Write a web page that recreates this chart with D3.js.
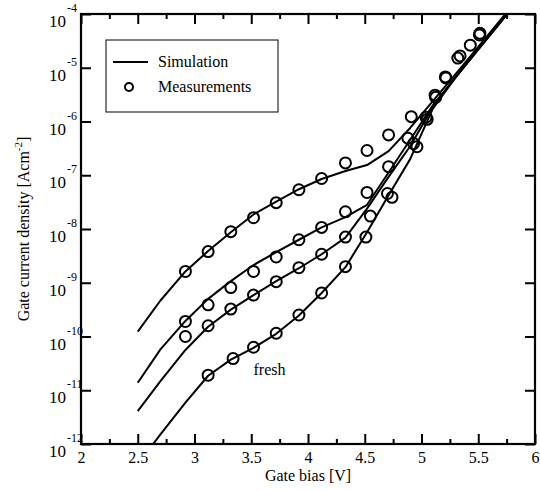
<!DOCTYPE html>
<html>
<head>
<meta charset="utf-8">
<script src="https://cdn.jsdelivr.net/npm/d3@7"></script>
<style>
  html, body { margin: 0; padding: 0; background: #fff; }
  svg { display: block; }
  text { font-family: "Liberation Serif", "Times New Roman", serif; fill: #000; }
</style>
</head>
<body>
<svg id="chart" width="540" height="491"></svg>
<script>
// ---- data (current density given as log10 of A/cm^2) ----
const xTickLabels = ["2", "2.5", "3", "3.5", "4", "4.5", "5", "5.5", "6"];
const yTickExponents = [-4, -5, -6, -7, -8, -9, -10, -11, -12];

// simulation curves
const simV = [2.5, 2.7, 2.92, 3.12, 3.32, 3.52, 3.72, 3.92, 4.12, 4.33, 4.52, 4.71, 4.9, 5.1, 5.3, 5.5, 5.7, 5.8];
const simA = [-9.91, -9.33, -8.79, -8.41, -8.06, -7.73, -7.49, -7.26, -7.07, -6.92, -6.81, -6.55, -6.12, -5.62, -5.12, -4.61, -4.10, -3.85];
const simB = [-10.86, -10.24, -9.71, -9.30, -8.97, -8.67, -8.43, -8.20, -7.97, -7.78, -7.55, -6.95, -6.34, -5.70, -5.18, -4.66, -4.14, -3.88];
const simC = [-11.39, -10.83, -10.25, -9.82, -9.50, -9.23, -8.97, -8.73, -8.47, -8.16, -7.62, -7.03, -6.46, -5.73, -5.18, -4.66, -4.14, -3.88];
const simFresh = [-12.38, -11.82, -11.23, -10.73, -10.43, -10.21, -9.95, -9.61, -9.19, -8.71, -8.06, -7.37, -6.70, -5.76, -5.18, -4.66, -4.14, -3.88];

// measurements
const measVA = [2.92, 3.12, 3.32, 3.52, 3.72, 3.92, 4.12, 4.33, 4.52, 4.71, 4.91];
const measA  = [-8.79, -8.42, -8.05, -7.79, -7.51, -7.27, -7.06, -6.77, -6.54, -6.25, -5.91];
const measVB = [2.92, 3.12, 3.32, 3.52, 3.72, 3.92, 4.12, 4.33, 4.52, 4.71, 4.88];
const measB  = [-9.72, -9.41, -9.09, -8.79, -8.52, -8.20, -7.97, -7.68, -7.32, -6.84, -6.31];
const measVC = [2.92, 3.12, 3.32, 3.52, 3.72, 3.92, 4.12, 4.33, 4.55, 4.70, 4.93];
const measC  = [-10.00, -9.80, -9.49, -9.23, -8.98, -8.72, -8.47, -8.15, -7.76, -7.34, -6.41];
const measVFresh = [3.12, 3.34, 3.52, 3.72, 3.92, 4.12, 4.33, 4.51, 4.74, 4.96];
const measFresh  = [-10.72, -10.41, -10.20, -9.94, -9.60, -9.19, -8.70, -8.15, -7.41, -6.47];
const measVHigh = [5.04, 5.05, 5.12, 5.125, 5.21, 5.215, 5.32, 5.34, 5.43, 5.51, 5.515];
const measHigh  = [-5.92, -5.96, -5.51, -5.55, -5.17, -5.19, -4.82, -4.78, -4.58, -4.39, -4.36];

// ---- chart ----
const svg = d3.select("#chart");
const L = 81, R = 535, T = 14, B = 444;
const x = d3.scaleLinear().domain([2, 6]).range([L, R]);
const y = d3.scaleLog().domain([1e-12, 1e-4]).range([B, T]);
const yl = v => y(Math.pow(10, v));

svg.append("defs").append("clipPath").attr("id", "clip")
  .append("rect").attr("x", L).attr("y", T).attr("width", R - L).attr("height", B - T);

const majorX = xTickLabels.map(Number);
const minorX = d3.range(2.25, 6, 0.5);
const decades = yTickExponents.map(e => Math.pow(10, e));

function styleAxis(g) {
  g.select(".domain").remove();
  g.selectAll(".tick line").attr("stroke", "#000").attr("stroke-width", 2);
}

// bottom axis
svg.append("g").attr("transform", `translate(0,${B})`)
  .call(d3.axisBottom(x).tickValues(majorX).tickSizeInner(-10).tickSizeOuter(0).tickPadding(8)
    .tickFormat((d, i) => xTickLabels[i]))
  .call(styleAxis)
  .call(g => g.selectAll("text").attr("font-size", 16).attr("font-family", "Liberation Serif").attr("fill", "#000"));
svg.append("g").attr("transform", `translate(0,${B})`)
  .call(d3.axisBottom(x).tickValues(minorX).tickSizeInner(-5).tickSizeOuter(0).tickFormat(""))
  .call(styleAxis);
// top axis
svg.append("g").attr("transform", `translate(0,${T})`)
  .call(d3.axisTop(x).tickValues(majorX).tickSizeInner(-10).tickSizeOuter(0).tickFormat(""))
  .call(styleAxis);
svg.append("g").attr("transform", `translate(0,${T})`)
  .call(d3.axisTop(x).tickValues(minorX).tickSizeInner(-5).tickSizeOuter(0).tickFormat(""))
  .call(styleAxis);
// left axis
svg.append("g").attr("transform", `translate(${L},0)`)
  .call(d3.axisLeft(y).tickValues(decades).tickSizeInner(-10).tickSizeOuter(0).tickFormat(""))
  .call(styleAxis);
// left tick labels: 10 with superscript exponent
const yLab = svg.append("g");
yLab.selectAll("text.base").data(yTickExponents).join("text").attr("class", "base")
  .attr("x", 66).attr("y", e => yl(e) + 13).attr("text-anchor", "end")
  .attr("font-size", 17).text("10");
yLab.selectAll("text.exp").data(yTickExponents).join("text").attr("class", "exp")
  .attr("x", 67).attr("y", e => yl(e) - 2).attr("text-anchor", "start")
  .attr("font-size", 12).text(e => String(e));
// right axis
svg.append("g").attr("transform", `translate(${R},0)`)
  .call(d3.axisRight(y).tickValues(decades).tickSizeInner(-10).tickSizeOuter(0).tickFormat(""))
  .call(styleAxis);

// frame
svg.append("rect").attr("x", L).attr("y", T).attr("width", R - L).attr("height", B - T)
  .attr("fill", "none").attr("stroke", "#000").attr("stroke-width", 2.2);

// simulation lines
const line = d3.line().x((d, i) => x(simV[i])).y(d => yl(d));
const plot = svg.append("g").attr("clip-path", "url(#clip)");
[simA, simB, simC, simFresh].forEach(s => {
  plot.append("path").datum(s).attr("d", line)
    .attr("fill", "none").attr("stroke", "#000").attr("stroke-width", 2).attr("stroke-linejoin", "round");
});

// measurements
const measSets = [[measVA, measA], [measVB, measB], [measVC, measC], [measVFresh, measFresh], [measVHigh, measHigh]];
measSets.forEach(([vs, js]) => {
  plot.append("g").selectAll("circle").data(js).join("circle")
    .attr("cx", (d, i) => x(vs[i])).attr("cy", d => yl(d)).attr("r", 5.5)
    .attr("fill", "none").attr("stroke", "#000").attr("stroke-width", 2);
});

// "fresh" annotation
svg.append("text").attr("x", x(3.52)).attr("y", yl(-10.71)).attr("font-size", 16).text("fresh");

// legend
const lg = svg.append("g");
lg.append("rect").attr("x", 106).attr("y", 40).attr("width", 172).attr("height", 72)
  .attr("fill", "#fff").attr("stroke", "#000").attr("stroke-width", 1);
lg.append("line").attr("x1", 113).attr("x2", 148).attr("y1", 62).attr("y2", 62)
  .attr("stroke", "#000").attr("stroke-width", 2);
lg.append("text").attr("x", 158).attr("y", 67).attr("font-size", 16).text("Simulation");
lg.append("circle").attr("cx", 129).attr("cy", 87).attr("r", 4)
  .attr("fill", "none").attr("stroke", "#000").attr("stroke-width", 2);
lg.append("text").attr("x", 158).attr("y", 92).attr("font-size", 16).text("Measurements");

// axis titles
svg.append("text").attr("x", (L + R) / 2).attr("y", 481).attr("text-anchor", "middle")
  .attr("font-size", 16).text("Gate bias [V]");
const yt = svg.append("text").attr("transform", `translate(29,${(T + B) / 2}) rotate(-90)`)
  .attr("text-anchor", "middle").attr("font-size", 16);
yt.append("tspan").text("Gate current density [Acm");
yt.append("tspan").attr("dy", -7).attr("font-size", 11).text("-2");
yt.append("tspan").attr("dy", 7).text("]");
</script>
</body>
</html>
